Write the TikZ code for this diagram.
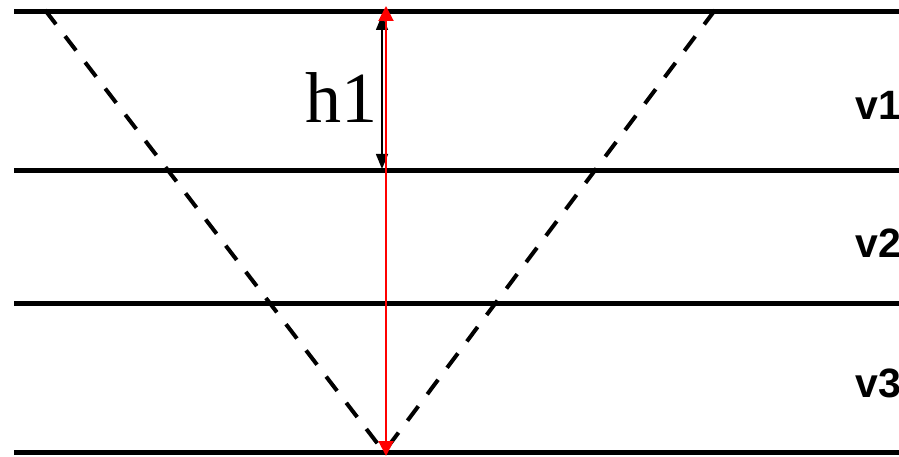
\documentclass[tikz,border=0pt]{standalone}
\usepackage{fontspec}
\setmainfont{Liberation Serif}
\newfontfamily\labfont{Liberation Sans}
\usetikzlibrary{arrows.meta}

\begin{document}
\begin{tikzpicture}[
  x=1pt, y=-1pt,
  layer/.style={line width=5pt},
  ray/.style={line width=4pt, dash pattern=on 18pt off 15pt},
  harr/.style={{Triangle[length=15pt,width=12pt]}-{Triangle[length=15pt,width=12pt]}, line width=1.5pt},
  rarr/.style={{Triangle[length=15pt,width=15pt]}-{Triangle[length=15pt,width=15pt]}, line width=2pt, red},
  vlab/.style={font=\labfont\bfseries\fontsize{41}{43}\selectfont, anchor=base west, inner sep=0pt},
  hlab/.style={font=\fontsize{72}{74}\selectfont, anchor=base west, inner sep=0pt}
]
\useasboundingbox (0,0) rectangle (899,457);
% ----- layer boundaries -----
\foreach \n/\y in {b0/12, b1/171, b2/303, b3/452}{
  \coordinate (\n w) at (14,\y);
  \coordinate (\n e) at (899,\y);
  \draw[layer] (\n w) -- (\n e);
}
% ----- rays -----
\coordinate (src) at (45,10);
\coordinate (rcv) at (715,10);
\coordinate (bot) at (384,452);
\draw[ray] (src) -- (bot);
\draw[ray] (rcv) -- (bot);
% ----- thickness arrows -----
\coordinate (h1top) at (382,15);
\coordinate (h1bot) at (382,169);
\draw[harr] (h1top) -- (h1bot);
\coordinate (rtop) at (386,6);
\coordinate (rbot) at (386,456);
\draw[rarr] (rtop) -- (rbot);
% ----- labels -----
\node[hlab] (h1) at (305,123) {h1};
\node[vlab] (v1) at (855,120) {v1};
\node[vlab] (v2) at (855,257) {v2};
\node[vlab] (v3) at (855,397) {v3};
\end{tikzpicture}
\end{document}
